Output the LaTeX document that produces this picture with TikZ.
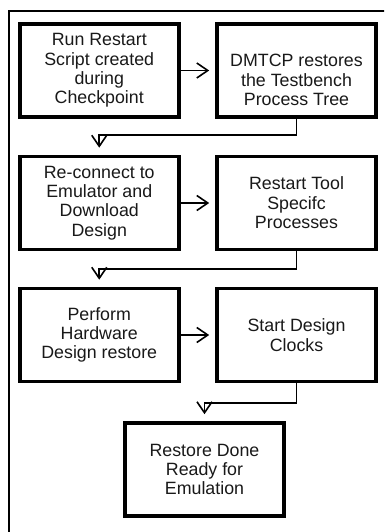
\documentclass[tikz,border=0pt]{standalone}
\usepackage{fontspec}
\setmainfont{Liberation Sans}
\usetikzlibrary{arrows.meta}
\begin{document}
\begin{tikzpicture}[x=1pt,y=-1pt,
  boxfont/.style={font=\fontsize{17.8}{19.4}\selectfont, text=black!90},
  stepbox/.style={draw, line width=3.6pt, minimum width=159pt, minimum height=93pt,
    inner sep=0pt, align=center, boxfont},
  plaintext/.style={inner sep=0pt, align=center, boxfont},
  flow/.style={line width=1.6pt, -{Straight Barb[length=11pt,width=15pt,line width=1.6pt]}}
]
\clip (0,0) rectangle (384,532);
\fill[white] (0,0) rectangle (384,532);

% outer frame (runs past the page on the right and at the bottom)
\draw[line width=2pt] (8.5,545) -- (8.5,11.3) -- (400,11.3);

% row 1
\node[stepbox] (b1) at (99.25,70.5) {Run Restart\\Script created\\during\\Checkpoint};
\node[stepbox] (b2) at (296.5,70.5) {};
\node[plaintext] (b2t) at (296.5,80) {DMTCP restores\\the Testbench\\Process Tree};

% row 2
\node[stepbox] (b3) at (99.25,203) {Re-connect to\\Emulator and\\Download\\Design};
\node[stepbox] (b4) at (296.5,203) {Restart Tool\\Specifc\\Processes};

% row 3
\node[stepbox] (b5) at (99.25,335) {Perform\\Hardware\\Design restore};
\node[stepbox] (b6) at (296.5,335) {Start Design\\Clocks};

% final step
\node[stepbox] (b7) at (204.5,469.5) {Restore Done\\Ready for\\Emulation};

% turning points of the return connectors
\coordinate (j1) at (99.25,135);
\coordinate (j2) at (99.25,269);
\coordinate (j3) at (204.5,403);

% connectors
\draw[flow] (b1.east) -- ([xshift=-6pt]b2.west);
\draw[flow] (b3.east) -- ([xshift=-6pt]b4.west);
\draw[flow] (b5.east) -- ([xshift=-6pt]b6.west);

\draw[flow] (b2.south) |- (j1) -- ([yshift=7pt]b3.north);
\draw[flow] (b4.south) |- (j2) -- ([yshift=7pt]b5.north);
\draw[flow] (b6.south) |- (j3) -- ([yshift=7pt]b7.north);
\end{tikzpicture}
\end{document}
